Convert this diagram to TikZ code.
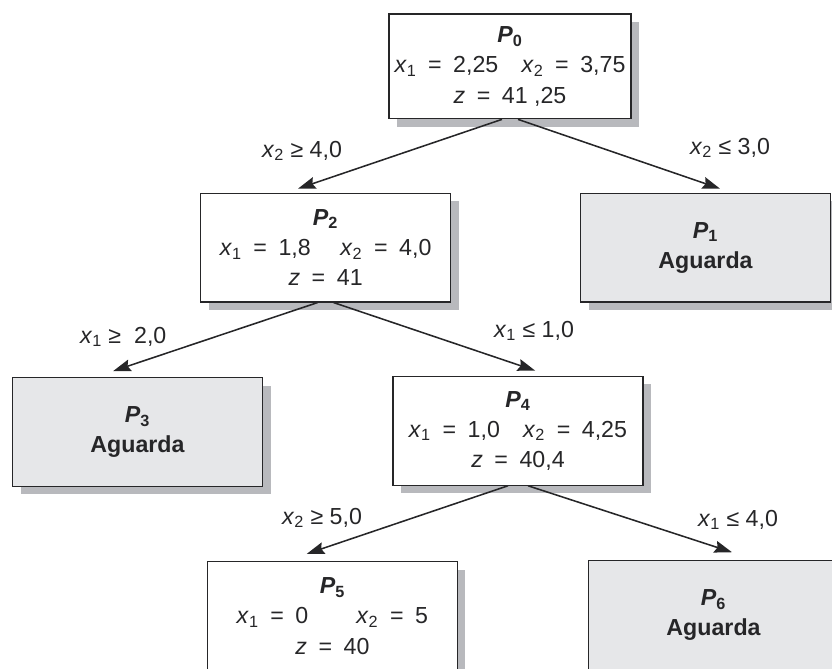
\documentclass[tikz,border=0pt]{standalone}
\usepackage{fontspec}
\setmainfont{Liberation Sans}
\usepackage{tikz}
\usetikzlibrary{
	arrows.meta,
	shadows
}
\usepackage{xcolor}

\definecolor{boxgray}{RGB}{230,231,233}
\definecolor{shadowgray}{RGB}{184,185,189}
\definecolor{inkgray}{RGB}{38,38,40}

\newcommand{\xv}[1]{\textit{x}\textsubscript{#1}}
\newcommand{\zv}{\textit{z}}
\newcommand{\pv}[1]{\textbf{\textit{P}\textsubscript{#1}}}
\newcommand{\eq}{\enspace=\enspace}

\tikzset{
	prob/.style={draw=inkgray, line width=0.8pt, fill=white, text=inkgray,
		align=center, minimum width=6.25cm, minimum height=2.72cm, inner sep=2pt,
		font=\fontsize{16.5}{21.5}\selectfont,
		drop shadow={shadow xshift=0.2cm, shadow yshift=-0.2cm, fill=shadowgray, opacity=1}},
	wait/.style={prob, fill=boxgray},
	cut/.style={text=inkgray, inner sep=0pt, font=\fontsize{16.5}{21.5}\selectfont},
	branch/.style={draw=inkgray, line width=1.1pt,
		-{Stealth[length=0.44cm,width=0.3cm,inset=0.06cm]}}
}

\begin{document}
\begin{tikzpicture}
		
		% Frame
		\useasboundingbox (0,0) rectangle (20.8,16.7);
		\clip (0,0) rectangle (20.8,16.7);
		
		% Subproblems
		\node[prob, minimum width=6.05cm, minimum height=2.62cm] (p0) at (12.75,15.04)
		{\pv{0}\\ \xv{1}\eq 2,25\quad \xv{2}\eq 3,75\\ \zv\eq 41 ,25};
		\node[prob] (p2) at (8.14,10.51)
		{\pv{2}\\ \xv{1}\eq 1,8\quad\ \xv{2}\eq 4,0\\ \zv\eq 41};
		\node[wait] (p1) at (17.64,10.51) {\pv{1}\\ \textbf{Aguarda}};
		\node[wait] (p3) at (3.44,5.9) {\pv{3}\\ \textbf{Aguarda}};
		\node[prob] (p4) at (12.95,5.93)
		{\pv{4}\\ \xv{1}\eq 1,0\quad \xv{2}\eq 4,25\\ \zv\eq 40,4};
		\node[prob] (p5) at (8.31,1.3)
		{\pv{5}\\ \xv{1}\eq 0\hspace{1.2cm}\xv{2}\eq 5\\ \zv\eq 40};
		\node[wait] (p6) at (17.84,1.32) {\pv{6}\\ \textbf{Aguarda}};
		
		% Branches
		\draw[branch] ([xshift=-0.2cm]p0.south) -- ([xshift=-0.69cm, yshift=0.1cm]p2.north);
		\draw[branch] ([xshift=0.2cm]p0.south) -- ([xshift=0.36cm, yshift=0.1cm]p1.north);
		\draw[branch] ([xshift=-0.2cm]p2.south) -- ([xshift=-0.61cm, yshift=0.15cm]p3.north);
		\draw[branch] ([xshift=0.2cm]p2.south) -- ([xshift=0.43cm, yshift=0.13cm]p4.north);
		\draw[branch] ([xshift=-0.25cm]p4.south) -- ([xshift=-0.64cm, yshift=0.18cm]p5.north);
		\draw[branch] ([xshift=0.25cm]p4.south) -- ([xshift=0.46cm, yshift=0.2cm]p6.north);
		
		% Cuts
		\node[cut] (c02) at (7.55,12.93) {\xv{2} ≥ 4,0};
		\node[cut] (c01) at (18.25,13.0) {\xv{2} ≤ 3,0};
		\node[cut] (c23) at (3.08,8.28) {\xv{1} ≥~ 2,0};
		\node[cut] (c24) at (13.35,8.43) {\xv{1} ≤ 1,0};
		\node[cut] (c45) at (8.05,3.75) {\xv{2} ≥ 5,0};
		\node[cut] (c46) at (18.45,3.7) {\xv{1} ≤ 4,0};
		
	\end{tikzpicture}
\end{document}
